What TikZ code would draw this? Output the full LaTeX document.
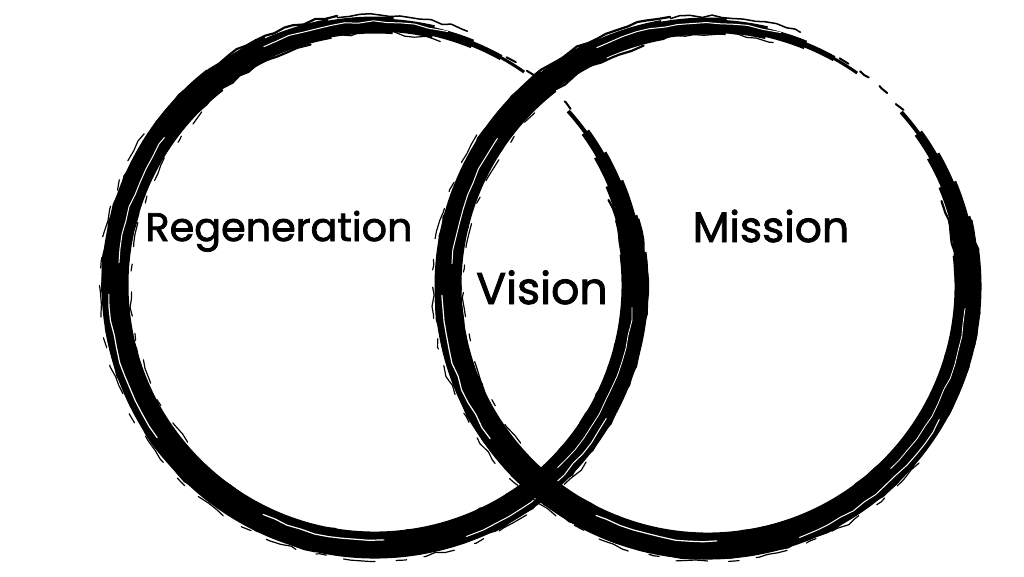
\documentclass[tikz,border=0pt]{standalone}
\usepackage{fontspec}
\setmainfont{Poppins}
\newfontfamily\markerfont{Poppins}[BoldFont={Poppins}, BoldFeatures={FakeBold=1.8}]
\usetikzlibrary{decorations.pathmorphing}
\pgfmathsetseed{7}
\tikzset{
  core/.style={line width=#1 cm, draw=black, line cap=butt},
  strand/.style={line width=#1 cm, draw=black, line cap=round, decorate,
    decoration={random steps, segment length=3pt, amplitude=0.5pt}},
  streak/.style={line width=#1 cm, draw=white, line cap=round, decorate,
    decoration={random steps, segment length=4pt, amplitude=0.3pt}},
  word/.style={font=\markerfont\bfseries\fontsize{#1}{13}\selectfont, text=black, inner sep=0pt, anchor=base},
}
% arc of a ring: style, radius, start angle, end angle, centre
\newcommand\ringarc[5]{\draw[#1] ([shift={(#3:#2)}]#5) arc[start angle=#3, end angle=#4, radius=#2];}
\newcommand\brushring[1]{%
  \foreach \a/\b/\w in {42/35/0.04, 36/29/0.09, 30/22/0.14, 23/14/0.19, 15/6/0.23,
      7/-232/0.27, -231/-246/0.23, -245/-260/0.20, -259/-274/0.17,
      -273/-283/0.13, -282/-292/0.09, -291/-299/0.055, -298/-305/0.03}
    {\ringarc{core=\w}{2.60}{\a}{\b}{#1}}
  \ringarc{strand=0.02, dash pattern=on 3pt off 4pt}{2.63}{-300}{-318}{#1}
  \ringarc{strand=0.022}{2.715}{14}{-262}{#1}
  \ringarc{strand=0.022}{2.485}{20}{-255}{#1}
  \ringarc{strand=0.012, dash pattern=on 9pt off 5pt on 3pt off 6pt}{2.755}{-40}{-215}{#1}
  \ringarc{strand=0.012, dash pattern=on 7pt off 6pt on 2pt off 5pt}{2.445}{-140}{-225}{#1}
  \ringarc{strand=0.015}{2.70}{-262}{-290}{#1}
  \ringarc{strand=0.012}{2.52}{-255}{-285}{#1}
  \ringarc{streak=0.012}{2.55}{-88}{-116}{#1}
  \ringarc{streak=0.012}{2.66}{-145}{-178}{#1}
  \ringarc{streak=0.010}{2.57}{-185}{-215}{#1}
  \ringarc{streak=0.010}{2.63}{-245}{-286}{#1}
  \ringarc{streak=0.010}{2.67}{-30}{-70}{#1}
  \ringarc{streak=0.008}{2.58}{-5}{-45}{#1}
}
\begin{document}
\begin{tikzpicture}
  \fill[white] (0,0) rectangle (10.24,-5.76);
  \useasboundingbox (0,0) rectangle (10.24,-5.76);
  \coordinate (L) at (3.75,-2.85);
  \coordinate (R) at (7.08,-2.86);
  \brushring{L}
  \brushring{R}
  \node[word=11.3] (regen) at (2.79,-2.41) {Regeneration};
  \node[word=12.6] (vision) at (5.42,-3.04) {Vision};
  \node[word=12.1] (mission) at (7.71,-2.42) {Mission};
\end{tikzpicture}
\end{document}
